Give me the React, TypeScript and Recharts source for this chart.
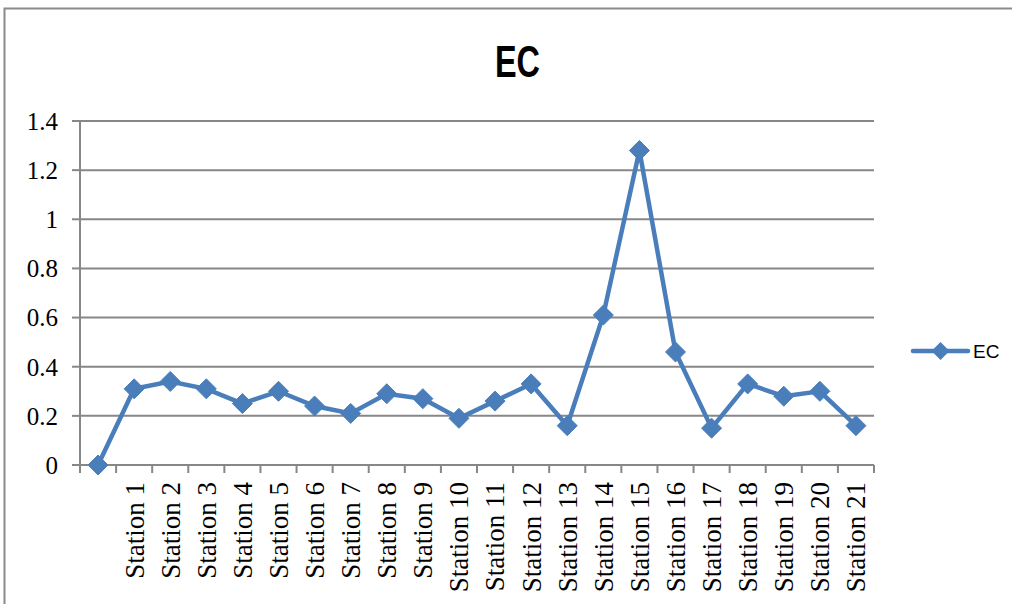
import React from "react";
import { LineChart, Line, XAxis, YAxis, CartesianGrid, Legend } from "recharts";

const categories = ["", "Station 1", "Station 2", "Station 3", "Station 4", "Station 5", "Station 6", "Station 7", "Station 8", "Station 9", "Station 10", "Station 11", "Station 12", "Station 13", "Station 14", "Station 15", "Station 16", "Station 17", "Station 18", "Station 19", "Station 20", "Station 21"];
const ecValues = [0, 0.31, 0.34, 0.31, 0.25, 0.3, 0.24, 0.21, 0.29, 0.27, 0.19, 0.26, 0.33, 0.16, 0.61, 1.28, 0.46, 0.15, 0.33, 0.28, 0.3, 0.16];
const yTicks = [0, 0.2, 0.4, 0.6, 0.8, 1, 1.2, 1.4];
const seriesName = "EC";
const title = "EC";

const data = categories.map((c, i) => ({ name: c, EC: ecValues[i] }));

const W = 1012;
const H = 604;
const M = { top: 121, right: 138, left: 0, bottom: 0 };
const Y_W = 80;
const X_H = 139;
const PLOT_W = W - M.right - Y_W;
const STEP = PLOT_W / categories.length;
const LINE_COLOR = "#4a7ebb";
const AXIS_COLOR = "#878787";

const Diamond = (props: any) => {
  const { cx, cy } = props;
  if (cx == null || cy == null) return null;
  const r = 10;
  return (
    <polygon
      points={`${cx},${cy - r} ${cx + r},${cy} ${cx},${cy + r} ${cx - r},${cy}`}
      fill={LINE_COLOR}
      stroke={LINE_COLOR}
      strokeWidth={1}
    />
  );
};

const XTick = (props: any) => {
  const { x, y, payload, index } = props;
  const last = index === categories.length - 1;
  return (
    <g>
      <line x1={x - STEP / 2} x2={x - STEP / 2} y1={y} y2={y + 8} stroke={AXIS_COLOR} strokeWidth={2} />
      {last && (
        <line x1={x + STEP / 2} x2={x + STEP / 2} y1={y} y2={y + 8} stroke={AXIS_COLOR} strokeWidth={2} />
      )}
      <text
        x={x}
        y={y + 17}
        transform={`rotate(-90, ${x}, ${y + 17})`}
        textAnchor="end"
        dy="0.35em"
        fontFamily="'Liberation Serif', 'Times New Roman', serif"
        fontSize={27}
        fill="#000"
      >
        {payload.value}
      </text>
    </g>
  );
};

const LegendContent = () => (
  <svg width={110} height={30}>
    <line x1={8} x2={63} y1={15} y2={15} stroke={LINE_COLOR} strokeWidth={4.5} strokeLinecap="round" />
    <polygon points={`35.5,6 44.5,15 35.5,24 26.5,15`} fill={LINE_COLOR} />
    <text x={68} y={15} dy="0.35em" fontFamily="'Liberation Sans', Arial, sans-serif" fontSize={19} fill="#000">
      {seriesName}
    </text>
  </svg>
);

export default function App() {
  return (
    <div style={{ position: "absolute", left: 0, top: 0, width: W, height: H, overflow: "hidden", background: "#fff" }}>
      <svg style={{ position: "absolute", left: 0, top: 0 }} width={W} height={H}>
        <rect x={4.5} y={8.5} width={W + 20} height={H + 20} fill="none" stroke="#8a8a8a" strokeWidth={2} />
        <text
          x={517.5}
          y={77}
          textAnchor="middle"
          fontFamily="'Liberation Sans', Arial, sans-serif"
          fontWeight="bold"
          fontSize={45}
          textLength={45}
          lengthAdjust="spacingAndGlyphs"
          fill="#000"
        >
          {title}
        </text>
      </svg>
      <div style={{ position: "absolute", left: 0, top: 0 }}>
        <LineChart width={W} height={H} data={data} margin={M}>
          <CartesianGrid vertical={false} stroke={AXIS_COLOR} strokeWidth={2} />
          <XAxis
            dataKey="name"
            height={X_H}
            padding={{ left: STEP / 2, right: STEP / 2 }}
            axisLine={{ stroke: AXIS_COLOR, strokeWidth: 2 }}
            tickLine={false}
            tickSize={0}
            tickMargin={0}
            interval={0}
            tick={<XTick />}
          />
          <YAxis
            width={Y_W}
            domain={[0, 1.4]}
            ticks={yTicks}
            interval={0}
            axisLine={{ stroke: AXIS_COLOR, strokeWidth: 2 }}
            tickLine={{ stroke: AXIS_COLOR, strokeWidth: 2 }}
            tickSize={8}
            tickMargin={14}
            tick={{ fontFamily: "'Liberation Serif', 'Times New Roman', serif", fontSize: 25, fill: "#000" }}
          />
          <Legend
            layout="horizontal"
            verticalAlign="middle"
            align="center"
            wrapperStyle={{ position: "absolute", left: 905, top: 336, width: 110 }}
            content={<LegendContent />}
          />
          <Line
            type="linear"
            dataKey="EC"
            name={seriesName}
            stroke={LINE_COLOR}
            strokeWidth={4.5}
            dot={<Diamond />}
            activeDot={false}
            isAnimationActive={false}
          />
        </LineChart>
      </div>
    </div>
  );
}
